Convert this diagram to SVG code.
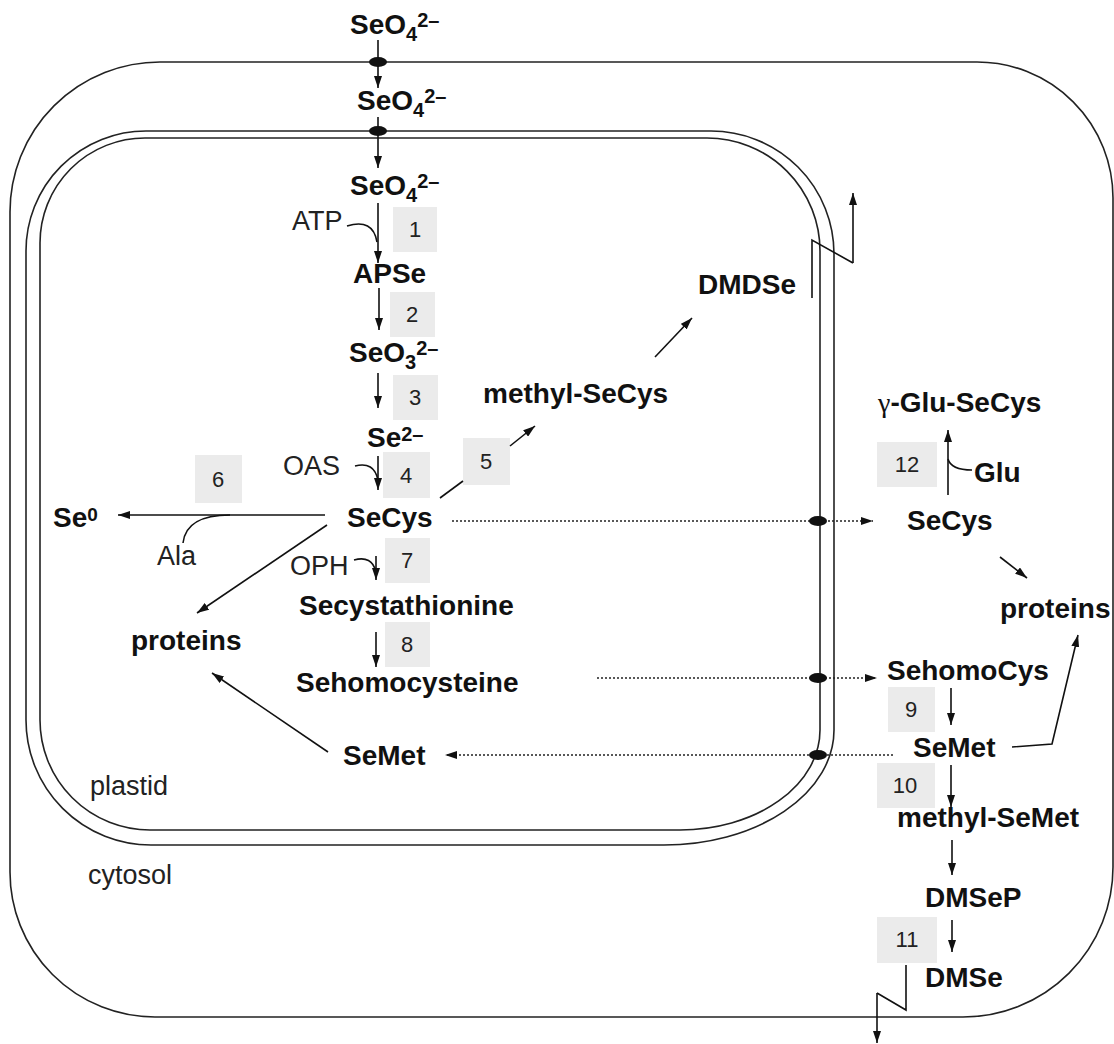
<svg xmlns="http://www.w3.org/2000/svg" width="1114" height="1044" viewBox="0 0 1114 1044">
<style>
.b{font-family:"Liberation Sans",Arial,sans-serif;font-weight:bold;font-size:28px;fill:#111}
.r{font-family:"Liberation Sans",Arial,sans-serif;font-size:27px;fill:#222}
.n{font-family:"Liberation Sans",Arial,sans-serif;font-size:22px;fill:#222;text-anchor:middle}
.box{fill:#ebebeb}
.mem{fill:none;stroke:#222;stroke-width:1.6}
.ln{fill:none;stroke:#111;stroke-width:1.6}
.ar{fill:none;stroke:#111;stroke-width:1.6;marker-end:url(#ah)}
.dt{fill:none;stroke:#222;stroke-width:1.5;stroke-dasharray:2 2;marker-end:url(#ah)}
.tp{fill:#111}
</style>
<defs>
<marker id="ah" viewBox="0 0 12 8" refX="12" refY="4" markerWidth="12" markerHeight="8" markerUnits="userSpaceOnUse" orient="auto">
<path d="M0,0 L12,4 L0,8 z" fill="#111"/>
</marker>
</defs>
<rect width="1114" height="1044" fill="#fff"/>

<g id="membranes">
<path id="cell" class="mem" d="M160,62 H977 A136,136 0 0 1 1113,198 V867 A150,150 0 0 1 963,1017 H155 A145,145 0 0 1 10,872 V212 A150,150 0 0 1 160,62 Z"/>
<path id="plastid-outer" class="mem" d="M146,131 H711 A123,123 0 0 1 834,254 V730 A170,115 0 0 1 664,845 H151 A125,125 0 0 1 26,720 V251 A120,120 0 0 1 146,131 Z"/>
<path id="plastid-inner" class="mem" d="M145,138 H707 A113,113 0 0 1 820,251 V730 A140,100 0 0 1 680,830 H150 A110,110 0 0 1 40,720 V243 A105,105 0 0 1 145,138 Z"/>
</g>

<g id="boxes">
<g id="e1"><rect class="box" x="393" y="207" width="44" height="45"/><text class="n" x="415" y="237">1</text></g>
<g id="e2"><rect class="box" x="390" y="292" width="45" height="45"/><text class="n" x="412" y="322">2</text></g>
<g id="e3"><rect class="box" x="393" y="375" width="45" height="45"/><text class="n" x="415" y="405">3</text></g>
<g id="e4"><rect class="box" x="383" y="452" width="47" height="46"/><text class="n" x="406" y="483">4</text></g>
<g id="e5"><rect class="box" x="463" y="438" width="47" height="47"/><text class="n" x="486" y="469">5</text></g>
<g id="e6"><rect class="box" x="195" y="455" width="47" height="48"/><text class="n" x="218" y="487">6</text></g>
<g id="e7"><rect class="box" x="385" y="538" width="45" height="45"/><text class="n" x="407" y="568">7</text></g>
<g id="e8"><rect class="box" x="385" y="622" width="45" height="45"/><text class="n" x="407" y="652">8</text></g>
<g id="e9"><rect class="box" x="888" y="687" width="47" height="45"/><text class="n" x="911" y="717">9</text></g>
<g id="e10"><rect class="box" x="877" y="763" width="58" height="45"/><text class="n" x="905" y="793">10</text></g>
<g id="e11"><rect class="box" x="877" y="917" width="60" height="46"/><text class="n" x="907" y="947">11</text></g>
<g id="e12"><rect class="box" x="877" y="442" width="60" height="45"/><text class="n" x="907" y="472">12</text></g>
</g>

<g id="connectors">
<line class="ar" x1="378" y1="40" x2="378" y2="88"/>
<line class="ar" x1="378" y1="117" x2="378" y2="168"/>
<line class="ar" x1="378" y1="203" x2="378" y2="263"/>
<path class="ln" d="M347,226 Q373,218 377,242"/>
<line class="ar" x1="379" y1="288" x2="379" y2="330"/>
<line class="ar" x1="378" y1="373" x2="378" y2="408"/>
<line class="ar" x1="378" y1="456" x2="378" y2="490"/>
<path class="ln" d="M355,466 Q374,461 378,480"/>
<line class="ln" x1="440" y1="498" x2="463" y2="481"/>
<line class="ar" x1="510" y1="446" x2="535" y2="426"/>
<line class="ar" x1="655" y1="357" x2="692" y2="318"/>
<polyline class="ln" points="812,298 812,240 853,263"/>
<line class="ar" x1="853" y1="263" x2="853" y2="193"/>
<line class="ar" x1="325" y1="515" x2="118" y2="515"/>
<path class="ln" d="M230,515 C200,515 185,525 183,543"/>
<line class="ar" x1="327" y1="525" x2="197" y2="613"/>
<line class="ar" x1="376" y1="556" x2="376" y2="580"/>
<path class="ln" d="M354,560 Q372,555 376,572"/>
<line class="ar" x1="376" y1="632" x2="376" y2="667"/>
<line class="ar" x1="328" y1="752" x2="212" y2="673"/>
<line class="dt" x1="452" y1="521" x2="873" y2="521"/>
<line class="dt" x1="597" y1="678" x2="877" y2="678"/>
<line class="dt" x1="893" y1="755" x2="445" y2="755"/>
<line class="ar" x1="948" y1="495" x2="948" y2="430"/>
<path class="ln" d="M948,459 Q951,470 972,470"/>
<line class="ar" x1="1000" y1="557" x2="1027" y2="578"/>
<line class="ar" x1="951" y1="688" x2="951" y2="725"/>
<polyline class="ar" points="1012,747 1052,744 1078,635"/>
<line class="ar" x1="951" y1="765" x2="951" y2="807"/>
<line class="ar" x1="952" y1="840" x2="952" y2="875"/>
<line class="ar" x1="952" y1="920" x2="952" y2="952"/>
<polyline class="ln" points="906,965 906,1010 877,993"/>
<line class="ar" x1="877" y1="993" x2="877" y2="1043"/>
<ellipse class="tp" cx="378" cy="62" rx="9" ry="5"/>
<ellipse class="tp" cx="378" cy="131" rx="9" ry="5"/>
<ellipse class="tp" cx="818" cy="521" rx="9" ry="5"/>
<ellipse class="tp" cx="818" cy="678" rx="9" ry="5"/>
<ellipse class="tp" cx="818" cy="755" rx="9" ry="5"/>
</g>

<g id="n-seo4-out"><text class="b" x="350" y="34">SeO<tspan font-size="20" dy="7">4</tspan><tspan font-size="20" dy="-14">2–</tspan></text></g>
<g id="n-seo4-cyt"><text class="b" x="357" y="110">SeO<tspan font-size="20" dy="7">4</tspan><tspan font-size="20" dy="-14">2–</tspan></text></g>
<g id="n-seo4-pl"><text class="b" x="350" y="195">SeO<tspan font-size="20" dy="7">4</tspan><tspan font-size="20" dy="-14">2–</tspan></text></g>
<g id="n-atp"><text class="r" x="292" y="230">ATP</text></g>
<g id="n-apse"><text class="b" x="353" y="283">APSe</text></g>
<g id="n-seo3"><text class="b" x="349" y="362">SeO<tspan font-size="20" dy="7">3</tspan><tspan font-size="20" dy="-14">2–</tspan></text></g>
<g id="n-se2"><text class="b" x="367" y="447">Se<tspan font-size="20" dy="-6">2–</tspan></text></g>
<g id="n-oas"><text class="r" x="283" y="475">OAS</text></g>
<g id="n-secys"><text class="b" x="347" y="527">SeCys</text></g>
<g id="n-se0"><text class="b" x="53" y="527">Se<tspan font-size="19" dy="-6">0</tspan></text></g>
<g id="n-ala"><text class="r" x="157" y="565">Ala</text></g>
<g id="n-oph"><text class="r" x="290" y="575">OPH</text></g>
<g id="n-secysth"><text class="b" x="299" y="615">Secystathionine</text></g>
<g id="n-proteins-pl"><text class="b" x="131" y="650">proteins</text></g>
<g id="n-sehomocysteine"><text class="b" x="296" y="692">Sehomocysteine</text></g>
<g id="n-semet-pl"><text class="b" x="343" y="765">SeMet</text></g>
<g id="n-methylsecys"><text class="b" x="483" y="403">methyl-SeCys</text></g>
<g id="n-dmdse"><text class="b" x="698" y="294">DMDSe</text></g>
<g id="n-gglu"><text class="b" x="878" y="412"><tspan font-family="'Liberation Serif','Times New Roman',serif" font-weight="normal">γ</tspan>-Glu-SeCys</text></g>
<g id="n-glu"><text class="b" x="974" y="482">Glu</text></g>
<g id="n-secys-cyt"><text class="b" x="907" y="530">SeCys</text></g>
<g id="n-proteins-cyt"><text class="b" x="1000" y="618">proteins</text></g>
<g id="n-sehomocys"><text class="b" x="887" y="680">SehomoCys</text></g>
<g id="n-semet-cyt"><text class="b" x="913" y="757">SeMet</text></g>
<g id="n-methylsemet"><text class="b" x="897" y="827">methyl-SeMet</text></g>
<g id="n-dmsep"><text class="b" x="925" y="907">DMSeP</text></g>
<g id="n-dmse"><text class="b" x="925" y="987">DMSe</text></g>
<g id="n-plastid"><text class="r" x="90" y="795">plastid</text></g>
<g id="n-cytosol"><text class="r" x="88" y="884">cytosol</text></g>
</svg>
